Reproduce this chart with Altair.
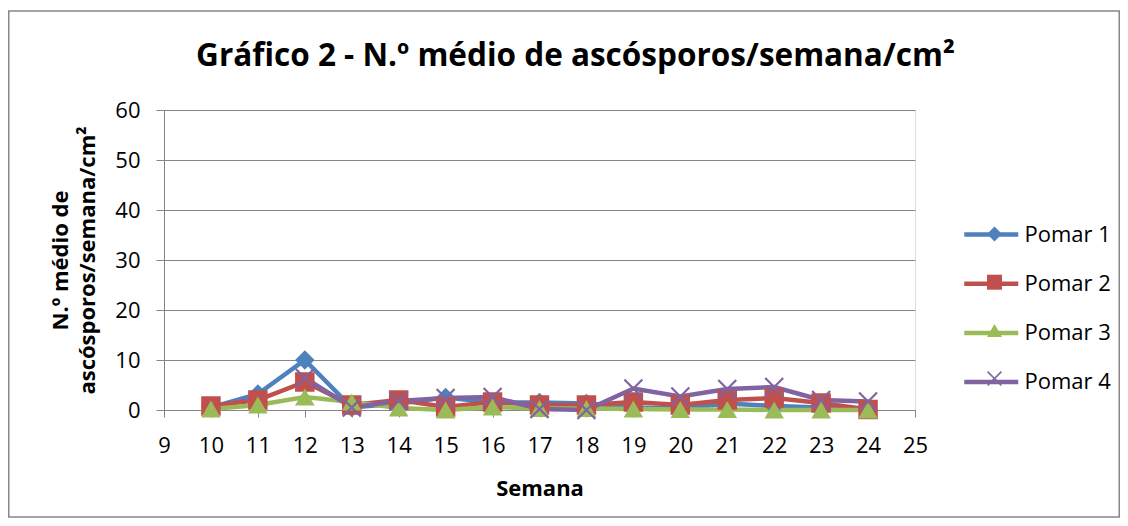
import altair as alt
import pandas as pd

weeks = list(range(10, 25))
pomar1 = [0.5, 3.2, 10.0, 0.5, 1.3, 2.5, 1.5, 1.5, 1.3, 0.5, 0.3, 1.3, 0.8, 0.5, 0.2]
pomar2 = [0.8, 2.0, 5.6, 1.0, 2.0, 0.6, 1.6, 1.0, 1.0, 1.6, 1.0, 2.0, 2.4, 1.4, 0.1]
pomar3 = [0.2, 1.0, 2.6, 1.6, 0.4, 0.0, 0.6, 0.3, 0.3, 0.2, 0.1, 0.1, 0.0, 0.0, 0.0]
pomar4 = [None, None, 6.4, 0.5, 1.8, 2.4, 2.6, 0.2, 0.0, 4.3, 2.7, 4.2, 4.6, 2.0, 1.7]

series = ["Pomar 1", "Pomar 2", "Pomar 3", "Pomar 4"]
colors = ["#4F81BD", "#C0504D", "#9BBB59", "#8064A2"]
x_ticks = list(range(9, 26))
y_ticks = [0, 10, 20, 30, 40, 50, 60]

XPATH = ("M0,-0.16L0.84,-1L1,-0.84L0.16,0L1,0.84L0.84,1L0,0.16L-0.84,1"
         "L-1,0.84L-0.16,0L-1,-0.84L-0.84,-1Z")
shapes = ["diamond", "square", "triangle-up", XPATH]

rows = []
for name, vals in zip(series, [pomar1, pomar2, pomar3, pomar4]):
    for w, v in zip(weeks, vals):
        if v is not None:
            rows.append({"Semana": w, "Valor": v, "Pomar": name})
df = pd.DataFrame(rows)

FONT = "Open Sans"
GRAY = "#868686"

x_enc = alt.X("Semana:Q",
              scale=alt.Scale(domain=[9, 25], nice=False, zero=False),
              axis=alt.Axis(values=x_ticks, grid=False, tickSize=7, labelPadding=18,
                            labelFontSize=22, labelFont=FONT, labelColor="black",
                            labelFlush=False, domainColor=GRAY, tickColor=GRAY,
                            title="Semana", titleFont=FONT, titleFontSize=22,
                            titleFontWeight="bold", titleColor="black",
                            titleY=85, titleBaseline="alphabetic"))
y_enc = alt.Y("Valor:Q",
              scale=alt.Scale(domain=[0, 60], nice=False),
              axis=alt.Axis(values=y_ticks, grid=True, gridColor=GRAY, tickSize=8,
                            labelPadding=16, labelFontSize=22, labelFont=FONT,
                            labelColor="black", domainColor=GRAY, tickColor=GRAY,
                            title=["N.º médio de", "ascósporos/semana/cm²"],
                            titleFont=FONT, titleFontSize=22, titleFontWeight="bold",
                            titleColor="black", titleX=-97, titleY=150,
                            titleAlign="center", titleBaseline="alphabetic",
                            titleLineHeight=27))

legend_lines = alt.Legend(orient="none", legendX=815.75, legendY=113,
                          symbolType="M-3,0L3,0", symbolSize=324, symbolStrokeWidth=4.5,
                          labelOffset=21.75, labelFontSize=22, labelFont=FONT,
                          labelColor="black", rowPadding=26.2, title=None, padding=0)
legend_pts = alt.Legend(orient="none", legendX=819.5, legendY=113,
                        symbolSize=225, labelOffset=21.75, labelFontSize=22,
                        labelFont=FONT, labelOpacity=0, labelExpr="' '",
                        rowPadding=26.2, title=None, padding=0)

frame = alt.Chart(pd.DataFrame({"f": [0]})).mark_rect(
    fill="transparent", fillOpacity=0, stroke=GRAY, strokeWidth=1.5
).encode(x=alt.value(-155.25), x2=alt.value(955.25),
         y=alt.value(-99), y2=alt.value(407))

lines = alt.Chart(df).mark_line(strokeWidth=4.5).encode(
    x=x_enc, y=y_enc,
    color=alt.Color("Pomar:N", scale=alt.Scale(domain=series, range=colors),
                    legend=legend_lines),
)

points = alt.Chart(df).mark_point(filled=True, size=380, opacity=1).encode(
    x=x_enc, y=y_enc,
    color=alt.Color("Pomar:N", scale=alt.Scale(domain=series, range=colors),
                    legend=legend_pts),
    shape=alt.Shape("Pomar:N", scale=alt.Scale(domain=series, range=shapes),
                    legend=legend_pts),
)

chart = alt.layer(frame, lines, points).resolve_scale(
    color="independent"
).resolve_legend(color="independent", shape="independent").properties(
    width=751, height=300,
    autosize=alt.AutoSizeParams(type="none"),
    padding={"left": 156, "top": 102, "right": 205, "bottom": 108},
    title=alt.TitleParams(text="Gráfico 2 - N.º médio de ascósporos/semana/cm²",
                          font=FONT, fontSize=31.5, fontWeight="bold", color="black",
                          frame="group", anchor="middle", dx=36, dy=87.5, offset=0,
                          baseline="alphabetic"),
).configure_view(stroke=None).configure(background="white")

chart.save("out.html", embed_options={"renderer": "svg", "actions": False})
